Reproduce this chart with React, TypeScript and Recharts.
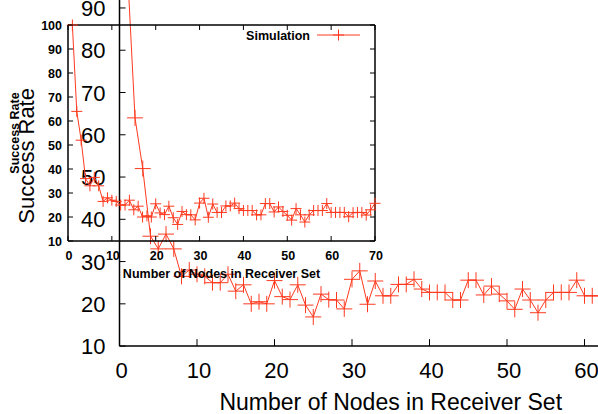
import React from 'react';
import { LineChart, Line, XAxis, YAxis, Legend, Label } from 'recharts';

const nodeCounts = [
  1, 2, 3, 4, 5, 6, 7, 8, 9, 10,
  11, 12, 13, 14, 15, 16, 17, 18, 19, 20,
  21, 22, 23, 24, 25, 26, 27, 28, 29, 30,
  31, 32, 33, 34, 35, 36, 37, 38, 39, 40,
  41, 42, 43, 44, 45, 46, 47, 48, 49, 50,
  51, 52, 53, 54, 55, 56, 57, 58, 59, 60,
  61, 62, 63, 64, 65, 66, 67, 68, 69, 70,
];
const successRates = [
  100, 64, 52, 36, 33, 36.5, 33, 26.5, 28, 27,
  26.5, 25, 25, 27, 23, 24.5, 20, 20.5, 20, 25.5,
  21.7, 21, 24.5, 19.7, 16.9, 22.3, 21, 20.9, 18.8, 25.8,
  27.8, 19.9, 25.4, 21.9, 21.9, 24.6, 24.6, 25.8, 23.5, 22.7,
  22.7, 22.7, 20.9, 20.9, 25.6, 25.6, 22.1, 24.2, 22.3, 20.7,
  18.7, 23.5, 20.9, 17.9, 20.9, 22.7, 22.7, 22.7, 25.6, 21.9,
  21.9, 21.9, 21.9, 20.1, 21.8, 21.9, 21.9, 20.8, 23, 25.7,
];
const xTicks = [0, 10, 20, 30, 40, 50, 60, 70];
const yTicks = [10, 20, 30, 40, 50, 60, 70, 80, 90, 100];
const seriesName = 'Simulation';
const xAxisTitle = 'Number of Nodes in Receiver Set';
const yAxisTitle = 'Success Rate';

const data = nodeCounts.map((n, i) => ({ nodes: n, rate: successRates[i] }));

const FONT = '"Liberation Sans", Arial, Helvetica, sans-serif';
const RED = '#ff3a1f';
const AXIS = { stroke: '#000', strokeWidth: 1.5 };

function plusDot(size: number) {
  return (props: any) => {
    const { cx, cy, index } = props;
    if (cx == null || cy == null) return <g key={`e${index}`} />;
    const h = size / 2;
    return (
      <g key={`p${index}`}>
        <line x1={cx - h} x2={cx + h} y1={cy} y2={cy} stroke={RED} strokeWidth={1} />
        <line x1={cx} x2={cx} y1={cy - h} y2={cy + h} stroke={RED} strokeWidth={1} />
      </g>
    );
  };
}

// Big chart ticks
const bigYTick = (p: any) => (
  <g>
    <line x1={p.x} x2={p.x + 6} y1={p.y} y2={p.y} stroke="#000" strokeWidth={1} />
    <text x={p.x - 14} y={p.y + 8} textAnchor="end" fontSize={22} fontFamily={FONT} fill="#000">
      {p.payload.value}
    </text>
  </g>
);
const bigXTick = (p: any) => (
  <g>
    <line x1={p.x} x2={p.x} y1={p.y} y2={p.y - 7} stroke="#000" strokeWidth={1} />
    <text x={p.x + 2} y={p.y + 32} textAnchor="middle" fontSize={22} fontFamily={FONT} fill="#000">
      {p.payload.value}
    </text>
  </g>
);

// Inset ticks
const inYTick = (p: any) => (
  <g>
    <line x1={p.x} x2={p.x + 5} y1={p.y} y2={p.y} stroke="#000" strokeWidth={1} />
    <text x={p.x - 6} y={p.y + 4.5} textAnchor="end" fontSize={12.5} fontWeight="bold" fontFamily={FONT} fill="#000">
      {p.payload.value}
    </text>
  </g>
);
const inXTick = (p: any) => (
  <g>
    <line x1={p.x} x2={p.x} y1={p.y} y2={p.y - 5} stroke="#000" strokeWidth={1} />
    <text x={p.x + 1} y={p.y + 18.5} textAnchor="middle" fontSize={12.5} fontWeight="bold" fontFamily={FONT} fill="#000">
      {p.payload.value}
    </text>
  </g>
);
const inTopTick = (p: any) => (
  <line x1={p.x} x2={p.x} y1={p.y} y2={p.y + 5} stroke="#000" strokeWidth={1} />
);
const inRightTick = (p: any) => (
  <line x1={p.x} x2={p.x - 5} y1={p.y} y2={p.y} stroke="#000" strokeWidth={1} />
);

const legendContent = (props: any) => {
  const name = props && props.payload && props.payload[0] ? props.payload[0].value : seriesName;
  return (
    <svg width={140} height={20} style={{ display: 'block', overflow: 'visible' }}>
      <text x={80} y={14} textAnchor="end" fontSize={12.5} fontWeight="bold" fontFamily={FONT} fill="#000">
        {name}
      </text>
      <line x1={87} x2={130} y1={9} y2={9} stroke={RED} strokeWidth={1} />
      <line x1={103} x2={114} y1={9} y2={9} stroke={RED} strokeWidth={1} />
      <line x1={108.5} x2={108.5} y1={3.5} y2={14.5} stroke={RED} strokeWidth={1} />
    </svg>
  );
};

export default function App() {
  return (
    <div
      style={{
        position: 'fixed',
        left: 0,
        top: 0,
        width: 598,
        height: 414,
        overflow: 'hidden',
        background: '#fff',
        fontFamily: FONT,
      }}
    >
      {/* Main chart */}
      <div style={{ position: 'absolute', left: 0, top: -60 }}>
        <LineChart
          width={700}
          height={500}
          data={data}
          margin={{ top: 25.7, right: 38, bottom: 63.9, left: 59.5 }}
        >
          <XAxis
            dataKey="nodes"
            type="number"
            domain={[0, 70]}
            ticks={xTicks}
            interval={0}
            height={30}
            tickSize={0}
            tickMargin={0}
            tickLine={false}
            axisLine={AXIS}
            tick={bigXTick}
          >
            <Label value={xAxisTitle} position="bottom" offset={17.6} fontSize={23} fontFamily={FONT} fill="#000" />
          </XAxis>
          <YAxis
            type="number"
            domain={[10, 100]}
            ticks={yTicks}
            interval={0}
            width={60}
            tickSize={0}
            tickMargin={0}
            tickLine={false}
            axisLine={AXIS}
            tick={bigYTick}
          >
            <Label
              value={yAxisTitle}
              angle={-90}
              position="insideLeft"
              offset={-33.5}
              fontSize={22}
              fontFamily={FONT}
              fill="#000"
              style={{ textAnchor: 'middle' }}
            />
          </YAxis>
          <Line
            type="linear"
            dataKey="rate"
            name={seriesName}
            stroke={RED}
            strokeWidth={1}
            dot={plusDot(16)}
            activeDot={false}
            isAnimationActive={false}
          />
        </LineChart>
      </div>

      {/* Inset chart */}
      <div style={{ position: 'absolute', left: 0, top: 0 }}>
        <LineChart
          width={400}
          height={300}
          data={data}
          margin={{ top: 20, right: 15, bottom: 29, left: 28 }}
        >
          <XAxis
            xAxisId="b"
            dataKey="nodes"
            type="number"
            domain={[0, 70]}
            ticks={xTicks}
            interval={0}
            height={30}
            tickSize={0}
            tickMargin={0}
            tickLine={false}
            axisLine={AXIS}
            tick={inXTick}
          >
            <Label
              value={xAxisTitle}
              position="bottom"
              offset={-1.9}
              fontSize={12.5}
              fontWeight="bold"
              fontFamily={FONT}
              fill="#000"
            />
          </XAxis>
          <XAxis
            xAxisId="t"
            orientation="top"
            dataKey="nodes"
            type="number"
            domain={[0, 70]}
            ticks={xTicks}
            interval={0}
            height={5}
            tickSize={0}
            tickMargin={0}
            tickLine={false}
            axisLine={AXIS}
            tick={inTopTick}
          />
          <YAxis
            yAxisId="l"
            type="number"
            domain={[10, 100]}
            ticks={yTicks}
            interval={0}
            width={40}
            tickSize={0}
            tickMargin={0}
            tickLine={false}
            axisLine={AXIS}
            tick={inYTick}
          >
            <Label
              value={yAxisTitle}
              angle={-90}
              position="insideLeft"
              offset={-13}
              fontSize={12.5}
              fontWeight="bold"
              fontFamily={FONT}
              fill="#000"
              style={{ textAnchor: 'middle' }}
            />
          </YAxis>
          <YAxis
            yAxisId="r"
            orientation="right"
            type="number"
            domain={[10, 100]}
            ticks={yTicks}
            interval={0}
            width={10}
            tickSize={0}
            tickMargin={0}
            tickLine={false}
            axisLine={AXIS}
            tick={inRightTick}
          />
          <Legend
            layout="horizontal"
            verticalAlign="middle"
            align="center"
            wrapperStyle={{ left: 230, top: 26, width: 140, height: 20 }}
            content={legendContent}
          />
          <Line
            xAxisId="b"
            yAxisId="l"
            type="linear"
            dataKey="rate"
            name={seriesName}
            stroke={RED}
            strokeWidth={1}
            dot={plusDot(11)}
            activeDot={false}
            isAnimationActive={false}
          />
          <Line
            xAxisId="t"
            yAxisId="r"
            type="linear"
            dataKey="rate"
            name="mirror"
            stroke="none"
            dot={false}
            activeDot={false}
            legendType="none"
            isAnimationActive={false}
          />
        </LineChart>
      </div>
    </div>
  );
}
